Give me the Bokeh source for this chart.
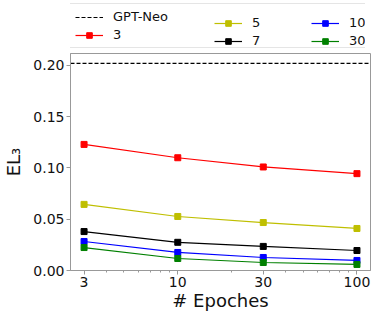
from bokeh.plotting import figure
from bokeh.layouts import column
from bokeh.models import FixedTicker, PrintfTickFormatter, Legend, LegendItem, Range1d, CustomJSTickFormatter
from bokeh.embed import file_html
from bokeh.resources import INLINE

epochs = [3, 10, 30, 100]
gpt_neo = 0.202
series_names = ["3", "5", "7", "10", "30"]
s3 = [0.123, 0.110, 0.101, 0.0945]
s5 = [0.0645, 0.0527, 0.0468, 0.041]
s7 = [0.038, 0.0275, 0.0235, 0.0195]
s10 = [0.0283, 0.0176, 0.0127, 0.0098]
s30 = [0.0224, 0.0117, 0.0078, 0.0059]
colors = ["#ff0000", "#bfbf00", "#000000", "#0000ff", "#008000"]
y_ticks = [0.0, 0.05, 0.10, 0.15, 0.20]
x_minor = [4, 5, 6, 7, 8, 9, 20, 40, 50, 60, 70, 80, 90]
series = [s3, s5, s7, s10, s30]

font = "DejaVu Sans"

p = figure(frame_width=300, frame_height=217, x_axis_type="log", output_backend="svg",
           toolbar_location=None, x_range=Range1d(2.52, 119), y_range=Range1d(0, 0.2117))
p.min_border_left = 65
p.min_border_right = 1
p.min_border_top = 5
p.min_border_bottom = 0
p.xgrid.visible = False
p.ygrid.visible = False
p.outline_line_color = "#999999"
p.outline_line_width = 1

for ax in (p.xaxis[0], p.yaxis[0]):
    ax.axis_line_color = "#999999"
    ax.major_tick_line_color = "#999999"
    ax.minor_tick_line_color = "#999999"
    ax.major_label_text_font = font
    ax.major_label_text_font_size = "14px"
    ax.major_label_text_color = "#111111"
    ax.axis_label_text_font = font
    ax.axis_label_text_font_size = "18px"
    ax.axis_label_text_font_style = "normal"
    ax.axis_label_text_color = "#111111"
    ax.major_tick_out = 4
    ax.major_tick_in = 0
    ax.minor_tick_out = 2
    ax.minor_tick_in = 0
    ax.major_label_standoff = 2

p.xaxis.ticker = FixedTicker(ticks=epochs, minor_ticks=x_minor)
p.xaxis.formatter = CustomJSTickFormatter(code="return tick.toFixed(0);")
p.yaxis.ticker = FixedTicker(ticks=y_ticks)
p.yaxis.formatter = PrintfTickFormatter(format="%.2f")
p.yaxis.minor_tick_line_color = None
p.xaxis.axis_label = "# Epoches"
p.yaxis.axis_label = "EL₃"
p.xaxis.axis_label_standoff = 0
p.yaxis.axis_label_standoff = 6

p.line([2.52, 119], [gpt_neo, gpt_neo], line_color="#000000", line_dash="4 2", line_width=1.2)
for vals, c in zip(series, colors):
    p.line(epochs, vals, line_color=c, line_width=1.2)
    p.scatter(epochs, vals, marker="square", size=6, fill_color=c, line_color=c)

# legend strip on top (its glyphs lie outside its ranges, so only the legends show)
lg = figure(width=366, height=48, output_backend="svg", toolbar_location=None,
            x_axis_location=None, y_axis_location=None,
            x_range=Range1d(-2, -1), y_range=Range1d(-2, -1))
lg.min_border_left = 63
lg.min_border_right = 0
lg.min_border_top = 0
lg.min_border_bottom = 0
lg.outline_line_color = None
lg.xgrid.visible = False
lg.ygrid.visible = False

neo_r = lg.line(epochs, [gpt_neo] * len(epochs), line_color="#000000", line_dash="4 2", line_width=1.2)
leg_r = {}
for name, vals, c in zip(series_names, series, colors):
    l = lg.line(epochs, vals, line_color=c, line_width=1.2)
    m = lg.scatter(epochs, vals, marker="square", size=6, fill_color=c, line_color=c)
    leg_r[name] = [l, m]

groups = [
    ([LegendItem(label="GPT-Neo", renderers=[neo_r]), LegendItem(label="3", renderers=leg_r["3"])], (-1, 0), 250, True),
    ([LegendItem(label="5", renderers=leg_r["5"]), LegendItem(label="7", renderers=leg_r["7"])], (144, 0), 16, False),
    ([LegendItem(label="10", renderers=leg_r["10"]), LegendItem(label="30", renderers=leg_r["30"])], (241, 0), 16, False),
]
for its, loc, lw, boxed in groups:
    legend = Legend(items=its, location=loc)
    legend.label_text_font = font
    legend.label_text_font_size = "13px"
    legend.label_text_color = "#111111"
    legend.label_height = 14
    legend.glyph_height = 14
    legend.glyph_width = 28
    legend.label_width = lw
    legend.spacing = 3
    legend.padding = 5
    legend.margin = 0
    legend.label_standoff = 10
    if boxed:
        legend.border_line_color = "#cccccc"
        legend.border_line_width = 1
    else:
        legend.border_line_color = None
        legend.background_fill_alpha = 0
    lg.add_layout(legend, "center")

layout = column(lg, p, spacing=0)
open("out.html", "w").write(file_html(layout, INLINE))
